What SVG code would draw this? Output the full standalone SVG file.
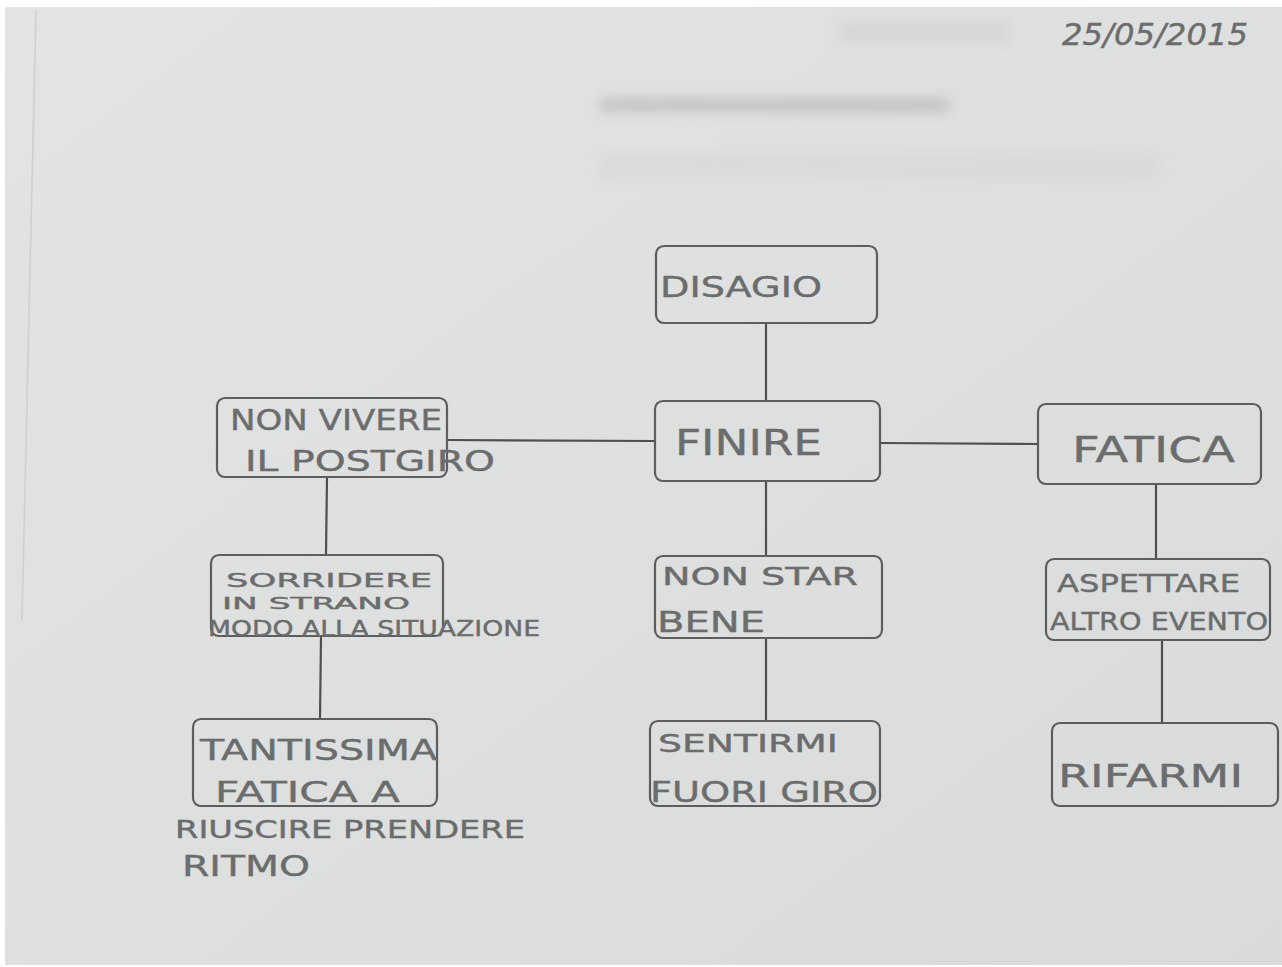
<svg xmlns="http://www.w3.org/2000/svg" width="1282" height="967" viewBox="0 0 1282 967">
<defs>
<linearGradient id="paper" x1="0" y1="0" x2="1" y2="1">
<stop offset="0" stop-color="#e2e3e3"/>
<stop offset="0.5" stop-color="#dedfdf"/>
<stop offset="1" stop-color="#d9dada"/>
</linearGradient>
<filter id="blur" x="-20%" y="-50%" width="140%" height="200%"><feGaussianBlur stdDeviation="6"/></filter>
<style>
.box{fill:none;stroke:#5c5e5e;stroke-width:2.2}
.edge{stroke:#4e5050;stroke-width:2.2;fill:none}
.t{font-family:"DejaVu Sans",sans-serif;fill:#6b6d6d;stroke:#6b6d6d;stroke-width:0.4}
.s{font-size:24px}
.m{font-size:28px}
.l{font-size:36px}
</style>
</defs>
<rect x="0" y="0" width="1282" height="967" fill="#ffffff"/>
<rect x="5" y="7" width="1277" height="958" fill="url(#paper)"/>
<line x1="36" y1="10" x2="22" y2="620" stroke="#cdcece" stroke-width="1.5"/>
<g filter="url(#blur)" opacity="0.4">
<rect x="600" y="98" width="350" height="14" fill="#9a9c98"/>
<rect x="840" y="20" width="170" height="24" fill="#c9cbc9"/>
<rect x="600" y="152" width="560" height="28" fill="#d2d4d2"/>
</g>
<g id="connectors">
<line class="edge" x1="766" y1="323" x2="766" y2="401"/>
<line class="edge" x1="447" y1="440" x2="655" y2="441"/>
<line class="edge" x1="880" y1="443" x2="1038" y2="444"/>
<line class="edge" x1="766" y1="481" x2="766" y2="556"/>
<line class="edge" x1="766" y1="638" x2="766" y2="721"/>
<line class="edge" x1="327" y1="477" x2="326" y2="555"/>
<line class="edge" x1="321" y1="636" x2="320" y2="719"/>
<line class="edge" x1="1156" y1="484" x2="1156" y2="559"/>
<line class="edge" x1="1162" y1="640" x2="1162" y2="723"/>
</g>
<g id="date"><text class="t" x="1062" y="45" font-size="30" font-style="italic" textLength="186" lengthAdjust="spacingAndGlyphs">25/05/2015</text></g>
<g id="disagio">
<rect class="box" x="656" y="246" width="221" height="77" rx="8"/>
<text class="t m" x="660" y="297" textLength="162" lengthAdjust="spacingAndGlyphs">DISAGIO</text>
</g>
<g id="finire">
<rect class="box" x="655" y="401" width="225" height="80" rx="8"/>
<text class="t l" x="675" y="455" textLength="147" lengthAdjust="spacingAndGlyphs">FINIRE</text>
</g>
<g id="fatica">
<rect class="box" x="1038" y="404" width="223" height="80" rx="8"/>
<text class="t l" x="1072" y="462" textLength="163" lengthAdjust="spacingAndGlyphs">FATICA</text>
</g>
<g id="non-vivere">
<rect class="box" x="217" y="398" width="230" height="79" rx="8"/>
<text class="t m" x="230" y="430" textLength="212" lengthAdjust="spacingAndGlyphs">NON VIVERE</text>
<text class="t m" x="245" y="471" textLength="250" lengthAdjust="spacingAndGlyphs">IL POSTGIRO</text>
</g>
<g id="sorridere">
<rect class="box" x="211" y="555" width="232" height="81" rx="8"/>
<text class="t" font-size="20" x="226" y="587" textLength="206" lengthAdjust="spacingAndGlyphs">SORRIDERE</text>
<text class="t" font-size="15" x="222" y="609" textLength="188" lengthAdjust="spacingAndGlyphs">IN STRANO</text>
<text class="t" font-size="21" x="208" y="636" textLength="332" lengthAdjust="spacingAndGlyphs">MODO ALLA SITUAZIONE</text>
</g>
<g id="tantissima">
<rect class="box" x="193" y="719" width="244" height="87" rx="8"/>
<text class="t m" x="200" y="760" textLength="237" lengthAdjust="spacingAndGlyphs">TANTISSIMA</text>
<text class="t m" x="215" y="802" textLength="185" lengthAdjust="spacingAndGlyphs">FATICA A</text>
<text class="t s" x="175" y="838" textLength="350" lengthAdjust="spacingAndGlyphs">RIUSCIRE PRENDERE</text>
<text class="t m" x="182" y="876" textLength="128" lengthAdjust="spacingAndGlyphs">RITMO</text>
</g>
<g id="non-stare">
<rect class="box" x="655" y="556" width="227" height="82" rx="8"/>
<text class="t s" x="662" y="585" textLength="196" lengthAdjust="spacingAndGlyphs">NON STAR</text>
<text class="t m" x="657" y="632" textLength="108" lengthAdjust="spacingAndGlyphs">BENE</text>
</g>
<g id="sentirmi">
<rect class="box" x="650" y="721" width="230" height="85" rx="8"/>
<text class="t s" x="658" y="752" textLength="180" lengthAdjust="spacingAndGlyphs">SENTIRMI</text>
<text class="t m" x="650" y="802" textLength="228" lengthAdjust="spacingAndGlyphs">FUORI GIRO</text>
</g>
<g id="aspettare">
<rect class="box" x="1046" y="559" width="224" height="81" rx="8"/>
<text class="t s" x="1057" y="592" textLength="183" lengthAdjust="spacingAndGlyphs">ASPETTARE</text>
<text class="t s" x="1050" y="630" textLength="218" lengthAdjust="spacingAndGlyphs">ALTRO EVENTO</text>
</g>
<g id="rifarmi">
<rect class="box" x="1052" y="723" width="226" height="83" rx="8"/>
<text class="t" font-size="32" x="1058" y="787" textLength="185" lengthAdjust="spacingAndGlyphs">RIFARMI</text>
</g>
</svg>
